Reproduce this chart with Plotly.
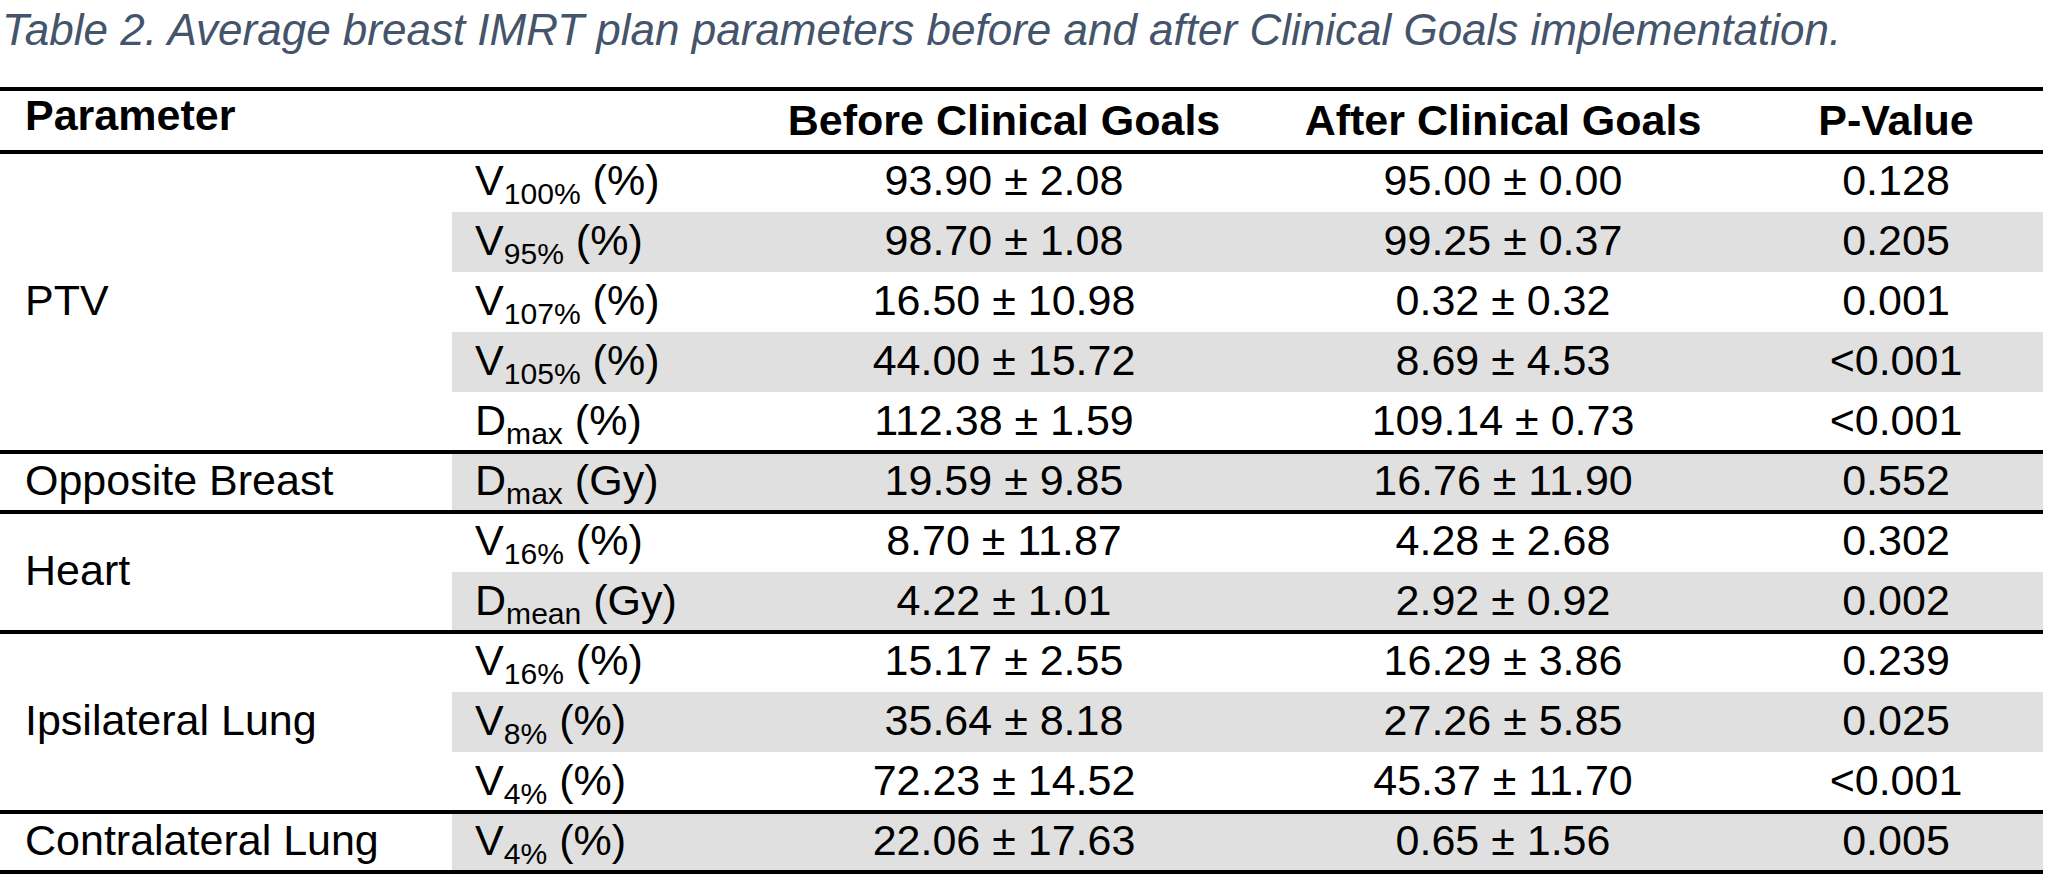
import plotly.graph_objects as go

# Table data
groups = ["PTV", "Opposite Breast", "Heart", "Ipsilateral Lung", "Contralateral Lung"]
group_sizes = [5, 1, 2, 3, 1]

params = [
    "V<sub>100%</sub> (%)", "V<sub>95%</sub> (%)", "V<sub>107%</sub> (%)", "V<sub>105%</sub> (%)",
    "D<sub>max</sub> (%)", "D<sub>max</sub> (Gy)", "V<sub>16%</sub> (%)", "D<sub>mean</sub> (Gy)",
    "V<sub>16%</sub> (%)", "V<sub>8%</sub> (%)", "V<sub>4%</sub> (%)", "V<sub>4%</sub> (%)",
]
before = [
    "93.90 ± 2.08", "98.70 ± 1.08", "16.50 ± 10.98", "44.00 ± 15.72", "112.38 ± 1.59",
    "19.59 ± 9.85", "8.70 ± 11.87", "4.22 ± 1.01", "15.17 ± 2.55", "35.64 ± 8.18",
    "72.23 ± 14.52", "22.06 ± 17.63",
]
after = [
    "95.00 ± 0.00", "99.25 ± 0.37", "0.32 ± 0.32", "8.69 ± 4.53", "109.14 ± 0.73",
    "16.76 ± 11.90", "4.28 ± 2.68", "2.92 ± 0.92", "16.29 ± 3.86", "27.26 ± 5.85",
    "45.37 ± 11.70", "0.65 ± 1.56",
]
p_values = ["0.128", "0.205", "0.001", "<0.001", "<0.001", "0.552", "0.302", "0.002",
            "0.239", "0.025", "<0.001", "0.005"]
headers = ["Parameter", "Before Clinical Goals", "After Clinical Goals", "P-Value"]
title = "Table 2. Average breast IMRT plan parameters before and after Clinical Goals implementation."

FONT = "Liberation Sans, Arial, sans-serif"
FS = 43
GREY = "#E0E0E0"
X_END = 2043
X_LABEL, X_PARAM, X_BEFORE, X_AFTER, X_P = 25, 475, 1004, 1503, 1896
DY = 0.04  # nudge text baseline a touch lower within each row

rows = list(range(len(params)))
text_rows = [r + DY for r in rows]

# group label positions = middle of each group's rows
group_y, group_edges = [], []
start = 0
for n in group_sizes:
    group_y.append(start + (n - 1) / 2 + DY)
    start += n
    group_edges.append(start - 0.5)

fig = go.Figure()

# shaded alternate rows (parameter + value columns only)
shapes = []
for i in rows:
    if i % 2 == 1:
        shapes.append(dict(type="rect", xref="x", yref="y", x0=452, x1=X_END,
                           y0=i - 0.5, y1=i + 0.5, fillcolor=GREY, line_width=0, layer="below"))

# rules: top, under header, group separators
for y in [-1.55, -0.5] + group_edges:
    shapes.append(dict(type="line", xref="x", yref="y", x0=0, x1=X_END, y0=y, y1=y,
                       line=dict(color="black", width=4)))

def text_col(x, y, text, pos, bold=False):
    if bold:
        text = ["<b>%s</b>" % t for t in text]
    fig.add_trace(go.Scatter(x=[x] * len(text), y=y, text=text, mode="text",
                             textposition=pos, hoverinfo="skip",
                             textfont=dict(family=FONT, size=FS, color="black")))

text_col(X_LABEL, group_y, groups, "middle right")
text_col(X_PARAM, text_rows, params, "middle right")
text_col(X_BEFORE, text_rows, before, "middle center")
text_col(X_AFTER, text_rows, after, "middle center")
text_col(X_P, text_rows, p_values, "middle center")
text_col(X_LABEL, [-1.05], headers[:1], "middle right", bold=True)
text_col(X_BEFORE, [-1 + DY], headers[1:2], "middle center", bold=True)
text_col(X_AFTER, [-1 + DY], headers[2:3], "middle center", bold=True)
text_col(X_P, [-1 + DY], headers[3:], "middle center", bold=True)

fig.add_annotation(text="<i>%s</i>" % title, xref="x", yref="y", x=0, y=-2.55,
                   xanchor="left", yanchor="middle", showarrow=False,
                   font=dict(family=FONT, size=44, color="#44546A"))

fig.update_layout(
    width=2048, height=884, margin=dict(l=0, r=0, t=0, b=0),
    paper_bgcolor="white", plot_bgcolor="white", showlegend=False,
    shapes=shapes,
    xaxis=dict(range=[0, 2048], visible=False, fixedrange=True),
    yaxis=dict(range=[(884 - 182) / 60, -182 / 60], visible=False, fixedrange=True),
)

# drop the default page margin so the figure sits at the window's corner
fig.write_html("out.html", config={"displayModeBar": False},
               post_script="document.body.style.margin='0';")
